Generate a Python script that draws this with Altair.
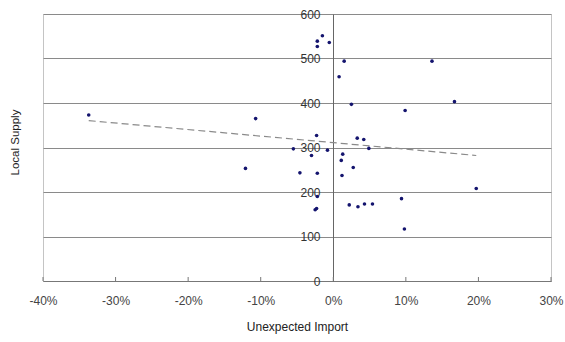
import altair as alt
import pandas as pd

# Unexpected import (fraction) and local supply
unexpected_import = [
    -0.337, -0.107, -0.121, -0.015, -0.022, -0.022, -0.0055, 0.015, 0.008, 0.025,
    0.136, 0.167, 0.099, -0.023, 0.033, 0.042, 0.049, -0.055, -0.030, -0.008,
    0.013, 0.011, 0.012, 0.0275, -0.046, -0.022, 0.197, -0.022, -0.025, -0.023,
    0.022, 0.034, 0.043, 0.054, 0.094, 0.098,
]
local_supply = [
    373, 365, 253, 551, 539, 527, 536, 494, 459, 397,
    494, 403, 383, 327, 321, 318, 298, 297, 282, 294,
    285, 271, 237, 255, 243, 242, 208, 190, 160, 163,
    171, 167, 173, 173, 185, 117,
]
x_ticks = [-0.4, -0.3, -0.2, -0.1, 0.0, 0.1, 0.2, 0.3]
y_ticks = [0, 100, 200, 300, 400, 500, 600]

df = pd.DataFrame({"imp": unexpected_import, "supply": local_supply})
ticks_df = pd.DataFrame({"t": x_ticks})

FONT = "Liberation Sans"

x_scale = alt.Scale(domain=[-0.4, 0.3], nice=False, zero=False)
y_scale = alt.Scale(domain=[0, 600], nice=False)

x_enc = alt.X(
    "imp:Q",
    scale=x_scale,
    axis=alt.Axis(
        values=x_ticks,
        labelExpr="replace(format(datum.value, '.0%'), '\u2212', '-')",
        title="Unexpected Import",
        grid=False, ticks=False, domainColor="#777777", domainWidth=1,
        labelFont=FONT, labelFontSize=12, labelColor="#444444", labelPadding=14,
        titleFont=FONT, titleFontSize=12, titleFontWeight="normal",
        titleColor="#222222", titlePadding=15, labelFlush=False,
    ),
)
y_enc = alt.Y(
    "supply:Q",
    scale=y_scale,
    axis=alt.Axis(
        values=y_ticks, title="Local Supply", offset=-290,
        grid=True, gridColor="#8a8a8a", gridWidth=1,
        ticks=False, domainColor="#666666", domainWidth=1,
        labelFont=FONT, labelFontSize=12, labelColor="#333333", labelPadding=13,
        titleFont=FONT, titleFontSize=11.5, titleFontWeight="normal",
        titleColor="#222222", titleAngle=-90, titleX=-318, titleY=128,
        titleAlign="center", titleBaseline="middle",
    ),
)

points = alt.Chart(df).mark_circle(size=13, color="#14146e", opacity=1).encode(
    x=x_enc, y=y_enc
)

trend = (
    alt.Chart(df)
    .transform_regression("imp", "supply", method="linear")
    .mark_line(color="#8a8a8a", strokeDash=[7, 4], strokeWidth=1.2)
    .encode(x=alt.X("imp:Q", scale=x_scale), y=alt.Y("supply:Q", scale=y_scale))
)

xticks = alt.Chart(ticks_df).mark_rule(color="#777777", strokeWidth=1).encode(
    x=alt.X("t:Q", scale=x_scale),
    y=alt.value(263),
    y2=alt.value(267),
)

chart = (
    alt.layer(trend, xticks, points)
    .properties(
        width=508, height=267,
        autosize=alt.AutoSizeParams(type="none"),
        padding={"left": 43, "top": 14, "right": 14, "bottom": 61},
        background="white",
    )
    .configure_view(stroke="#c4c4c4", strokeWidth=1)
)

chart.save("out.html", embed_options={"renderer": "svg", "actions": False})
